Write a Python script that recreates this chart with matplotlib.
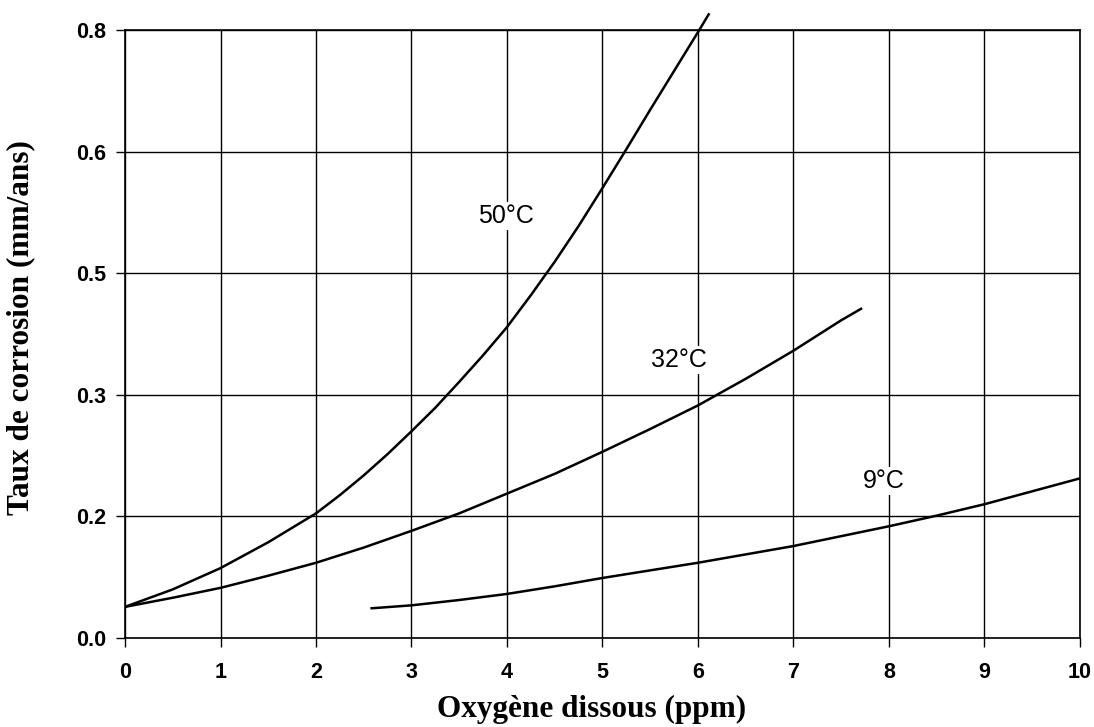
import matplotlib
matplotlib.use("Agg")
import matplotlib.pyplot as plt

# Data (y in mm/an on a linear 0-0.8 scale)
x50 = [0, 0.5, 1, 1.5, 2, 2.25, 2.5, 2.75, 3, 3.25, 3.5, 3.75, 4, 4.25, 4.5, 4.75, 5, 5.25, 5.5, 5.75, 6, 6.12]
y50 = [0.041, 0.064, 0.092, 0.126, 0.164, 0.188, 0.214, 0.242, 0.272, 0.303, 0.337, 0.372, 0.409, 0.451, 0.495, 0.542, 0.592, 0.643, 0.695, 0.746, 0.797, 0.822]

x32 = [0, 0.5, 1, 1.5, 2, 2.5, 3, 3.5, 4, 4.5, 5, 5.5, 6, 6.5, 7, 7.5, 7.72]
y32 = [0.041, 0.053, 0.066, 0.082, 0.099, 0.119, 0.141, 0.164, 0.190, 0.216, 0.245, 0.275, 0.306, 0.341, 0.378, 0.418, 0.434]

x9 = [2.57, 3, 3.5, 4, 4.5, 5, 5.5, 6, 6.5, 7, 7.5, 8, 8.5, 9, 9.5, 10]
y9 = [0.039, 0.043, 0.050, 0.058, 0.068, 0.079, 0.089, 0.099, 0.110, 0.121, 0.134, 0.147, 0.161, 0.176, 0.193, 0.210]

xticks = [0, 1, 2, 3, 4, 5, 6, 7, 8, 9, 10]
yticks = [0.0, 0.16, 0.32, 0.48, 0.64, 0.8]
ytick_labels = ["0.0", "0.2", "0.3", "0.5", "0.6", "0.8"]

labels = ["50°C", "32°C", "9°C"]
label_pos = [(3.99, 0.555), (5.8, 0.366), (7.95, 0.207)]

fig = plt.figure(figsize=(10.94, 7.27), dpi=100)
ax = fig.add_axes([0.1143, 0.1224, 0.987 - 0.1143, 0.9587 - 0.1224])

ax.set_xlim(0, 10)
ax.set_ylim(0, 0.8)
ax.set_xticks(xticks)
ax.set_yticks(yticks)
ax.set_yticklabels(ytick_labels)
ax.grid(True, color="black", linewidth=1.0)
ax.set_axisbelow(True)
for s in ax.spines.values():
    s.set_linewidth(1.2)

ax.tick_params(axis="both", direction="out", length=6.5, width=1.0, color="black",
               labelsize=15.5)
ax.tick_params(axis="x", pad=11)
ax.tick_params(axis="y", pad=7)
for lab in ax.get_xticklabels() + ax.get_yticklabels():
    lab.set_fontfamily("Liberation Sans")
    lab.set_fontweight("bold")
    lab.set_fontsize(15.5)

for xs, ys in [(x50, y50), (x32, y32), (x9, y9)]:
    ax.plot(xs, ys, color="black", linewidth=1.8, clip_on=False,
            solid_capstyle="butt", zorder=3)

for t, (lx, ly) in zip(labels, label_pos):
    ax.text(lx, ly, t, fontsize=18, family="Liberation Sans", ha="center", va="center",
            bbox=dict(facecolor="white", edgecolor="none", pad=1.5), zorder=2)

ax.set_xlabel("Oxygène dissous (ppm)", fontsize=22.5, family="Liberation Serif",
              weight="bold", va="baseline")
ax.set_ylabel("Taux de corrosion (mm/ans)", fontsize=22.5, family="Liberation Serif",
              weight="bold")
ax.xaxis.set_label_coords(0.489, -0.130)
ax.yaxis.set_label_coords(-0.094, 0.51)

fig.savefig("out.png", dpi=100, facecolor="white")
